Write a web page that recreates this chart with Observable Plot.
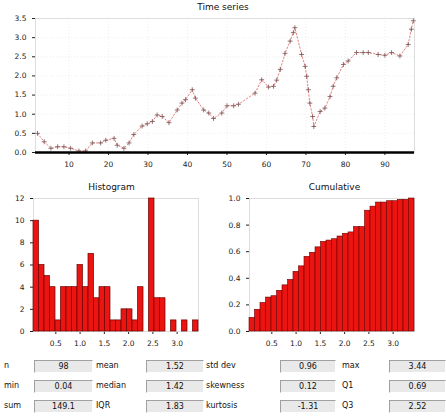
<!DOCTYPE html>
<html>
<head>
<meta charset="utf-8">
<script src="https://cdn.jsdelivr.net/npm/d3@7"></script>
<script src="https://cdn.jsdelivr.net/npm/@observablehq/plot@0.6"></script>
<style>
  html, body { margin: 0; padding: 0; background: #fff; }
  body { width: 446px; height: 420px; position: relative; overflow: hidden; font-family: "DejaVu Sans", sans-serif; }
  .panel { position: absolute; }
  .title { position: absolute; font-size: 9px; color: #111; text-align: center; }
  .lab { position: absolute; font-size: 8px; color: #111; line-height: 12px; }
  .box { position: absolute; height: 11px; background: #e9e9e9; border-top: 1px solid #a0a0a0; border-left: 1px solid #a0a0a0; border-right: 1px solid #fff; border-bottom: 1px solid #fff; font-size: 8px; line-height: 11px; text-align: center; color: #111; }
</style>
</head>
<body>
<div id="top" class="panel" style="left:0;top:0"></div>
<div id="hist" class="panel" style="left:0;top:175px"></div>
<div id="cdf" class="panel" style="left:223px;top:175px"></div>
<div id="titles"></div>
<div id="stats"></div>
<script>
// ---- data ----
const chartTitles = ["Time series", "Histogram", "Cumulative"];

const seriesT = [2.0, 3.7, 5.4, 7.1, 8.7, 10.4, 12.5, 14.2, 15.9, 18.0, 19.3, 21.4, 22.2, 23.9, 25.2, 26.4,
  28.5, 29.8, 31.1, 32.3, 33.6, 35.3, 37.4, 38.6, 39.5, 41.2, 42.0, 44.1, 45.4, 46.6, 48.7, 50.0, 51.7, 52.9,
  57.1, 58.8, 60.5, 61.8, 62.6, 63.5, 64.7, 66.0, 66.8, 67.2, 68.9, 69.8, 70.2, 70.6, 71.0, 71.7, 72.0, 73.6,
  74.8, 76.1, 76.9, 77.8, 79.5, 80.7, 82.8, 84.5, 85.8, 88.3, 90.0, 91.7, 93.8, 95.9, 96.7, 97.2];
const seriesV = [0.50, 0.28, 0.11, 0.15, 0.15, 0.11, 0.04, 0.04, 0.25, 0.25, 0.32, 0.37, 0.19, 0.11, 0.25, 0.47,
  0.69, 0.75, 0.81, 0.98, 0.94, 0.78, 1.11, 1.29, 1.38, 1.64, 1.42, 1.11, 1.03, 0.89, 1.03, 1.22, 1.22, 1.26,
  1.55, 1.90, 1.71, 1.73, 1.89, 2.17, 2.59, 2.91, 3.13, 3.26, 2.56, 2.25, 1.99, 1.64, 1.29, 0.94, 0.68, 1.07,
  1.16, 1.46, 1.73, 1.95, 2.30, 2.39, 2.61, 2.61, 2.61, 2.56, 2.54, 2.61, 2.52, 2.82, 3.22, 3.44];
const topXTicks = [10, 20, 30, 40, 50, 60, 70, 80, 90];
const topYTicks = [0, 0.5, 1, 1.5, 2, 2.5, 3, 3.5];

const histCounts = [10, 6, 5, 4, 1, 4, 4, 4, 6, 4, 7, 3, 4, 4, 1, 1, 2, 2, 1, 4, 0, 12, 3, 3, 0, 1, 0, 1, 0, 1];
const histRange = [0.04, 3.44];
const histXTicks = [0.5, 1, 1.5, 2, 2.5, 3];
const histYTicks = [0, 2, 4, 6, 8, 10, 12];
const cdfYTicks = [0, 0.2, 0.4, 0.6, 0.8, 1];

const statLabels = [["n", "mean", "std dev", "max"], ["min", "median", "skewness", "Q1"], ["sum", "IQR", "kurtosis", "Q3"]];
const statValues = [["98", "1.52", "0.96", "3.44"], ["0.04", "1.42", "0.12", "0.69"], ["149.1", "1.83", "-1.31", "2.52"]];

// ---- derived tables ----
const series = seriesT.map((t, i) => ({t, v: seriesV[i]}));
const binW = (histRange[1] - histRange[0]) / histCounts.length;
const bins = histCounts.map((c, i) => ({x1: histRange[0] + i * binW, x2: histRange[0] + (i + 1) * binW, c}));
const total = d3.sum(histCounts);
const cum = d3.cumsum(histCounts);
const cdfBins = bins.map((b, i) => ({x1: b.x1, x2: b.x2, p: cum[i] / total}));

const red = "#ec1410", edge = "#6a0000";
const baseStyle = {fontSize: "7.5px", fontFamily: "DejaVu Sans, sans-serif", color: "#222", background: "transparent", overflow: "visible"};

// ---- top: time series ----
document.getElementById("top").append(Plot.plot({
  width: 446, height: 168,
  marginLeft: 35, marginRight: 32, marginTop: 18, marginBottom: 16,
  style: baseStyle,
  x: {domain: [1.5, 97.5], ticks: topXTicks, tickSize: 3, label: null},
  y: {domain: [0, 3.5], ticks: topYTicks, tickFormat: d => d.toFixed(1), tickSize: 3, label: null},
  marks: [
    Plot.gridX(topXTicks, {stroke: "#bbb", strokeOpacity: 0.25, strokeDasharray: "1,2"}),
    Plot.gridY(topYTicks, {stroke: "#bbb", strokeOpacity: 0.25, strokeDasharray: "1,2"}),
    Plot.frame({stroke: "#ddd"}),
    Plot.line(series, {x: "t", y: "v", stroke: "#e88080", strokeWidth: 1, strokeDasharray: "1.5,2"}),
    Plot.dot(series, {x: "t", y: "v", symbol: "plus", r: 1.7, stroke: "#7a5050", strokeWidth: 0.8}),
    Plot.ruleY([0], {stroke: "#000", strokeWidth: 2.5})
  ]
}));

// ---- bottom left: histogram ----
document.getElementById("hist").append(Plot.plot({
  width: 223, height: 170,
  marginLeft: 33, marginRight: 25, marginTop: 23, marginBottom: 14,
  style: baseStyle,
  x: {domain: histRange, ticks: histXTicks, tickFormat: d => d.toFixed(1), tickSize: 3, label: null},
  y: {domain: [0, 12], ticks: histYTicks, tickSize: 3, label: null},
  marks: [
    Plot.frame({stroke: "#ddd"}),
    Plot.rectY(bins, {x1: "x1", x2: "x2", y: "c", fill: red, stroke: edge, strokeWidth: 0.7, inset: 0})
  ]
}));

// ---- bottom right: cumulative ----
document.getElementById("cdf").append(Plot.plot({
  width: 223, height: 170,
  marginLeft: 26, marginRight: 32, marginTop: 23, marginBottom: 14,
  style: baseStyle,
  x: {domain: histRange, ticks: histXTicks, tickFormat: d => d.toFixed(1), tickSize: 3, label: null},
  y: {domain: [0, 1], ticks: cdfYTicks, tickFormat: d => d.toFixed(1), tickSize: 3, label: null},
  marks: [
    Plot.frame({stroke: "#ddd"}),
    Plot.rectY(cdfBins, {x1: "x1", x2: "x2", y: "p", fill: red, stroke: edge, strokeWidth: 0.6, inset: 0})
  ]
}));

// ---- titles ----
const titlePos = [[0, 2, 446], [0, 182, 223], [223, 182, 223]];
const tdiv = document.getElementById("titles");
chartTitles.forEach((t, i) => {
  const d = document.createElement("div");
  d.className = "title";
  d.style.left = titlePos[i][0] + "px"; d.style.top = titlePos[i][1] + "px"; d.style.width = titlePos[i][2] + "px";
  d.textContent = t;
  tdiv.append(d);
});

// ---- stats table ----
const sdiv = document.getElementById("stats");
const labX = [4, 96, 206, 342], boxX = [34, 146, 280, 389], boxW = [57, 56, 54, 55], rowY = [360, 380, 400];
statLabels.forEach((row, r) => row.forEach((lab, c) => {
  const l = document.createElement("div");
  l.className = "lab"; l.style.left = labX[c] + "px"; l.style.top = rowY[r] + "px";
  l.textContent = lab; sdiv.append(l);
  const b = document.createElement("div");
  b.className = "box"; b.style.left = boxX[c] + "px"; b.style.top = rowY[r] + "px"; b.style.width = boxW[c] + "px";
  b.textContent = statValues[r][c]; sdiv.append(b);
}));
</script>
</body>
</html>
